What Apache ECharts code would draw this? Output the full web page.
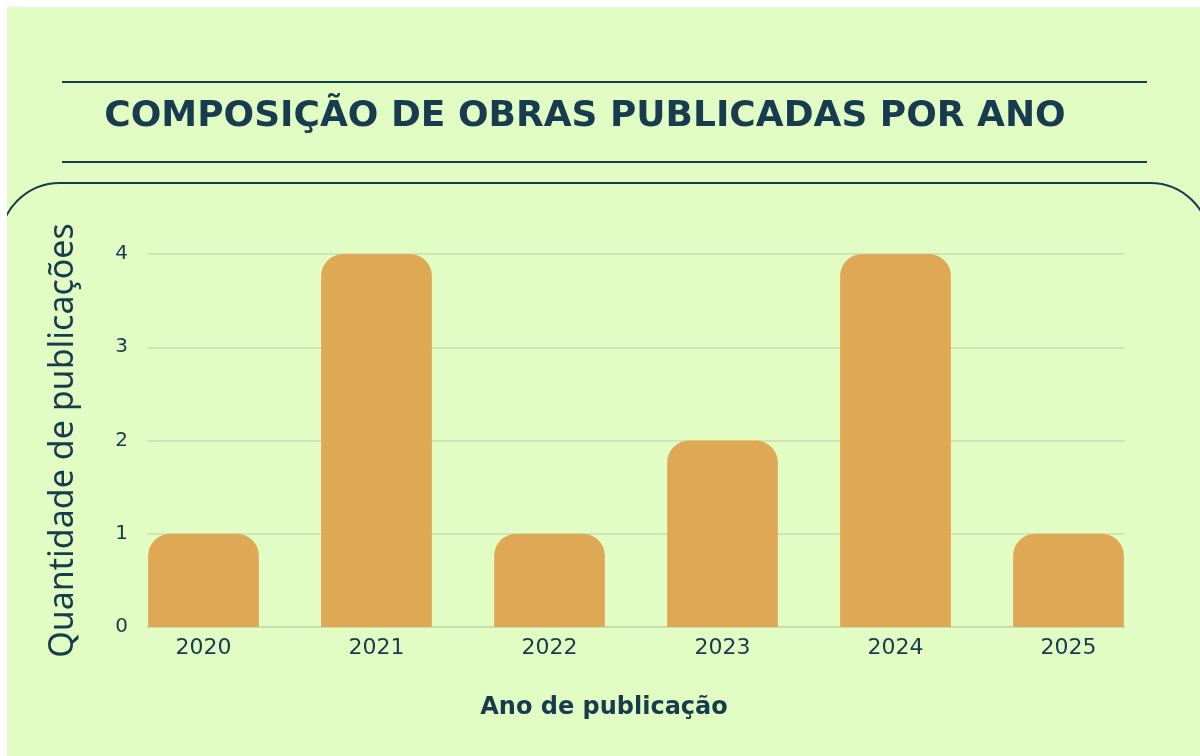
<!DOCTYPE html>
<html>
<head>
<meta charset="utf-8">
<script src="https://cdn.jsdelivr.net/npm/echarts@6/dist/echarts.min.js"></script>
<style>
    html, body { margin: 0; padding: 0; background: #ffffff; }
    #chart { width: 1200px; height: 756px; }
</style>
</head>
<body>
<div id="chart"></div>
<script type="text/javascript">
    var anos = ['2020', '2021', '2022', '2023', '2024', '2025'];
    var publicacoes = [1, 4, 1, 2, 4, 1];
    var yTicks = [0, 1, 2, 3, 4];

    var corTexto = '#173b4f';
    var corFundo = '#e2fdc4';
    var fonte = '"DejaVu Sans", sans-serif';

    var myChart = echarts.init(document.getElementById('chart'));
    var option = {
        backgroundColor: corFundo,
        graphic: [
            // bordas brancas
            { type: 'rect', z: 100, shape: { x: 0, y: 0, width: 1200, height: 7 }, style: { fill: '#ffffff' } },
            { type: 'rect', z: 100, shape: { x: 0, y: 0, width: 7, height: 756 }, style: { fill: '#ffffff' } },
            // linhas do título
            { type: 'line', shape: { x1: 62, y1: 82, x2: 1147, y2: 82 }, style: { stroke: corTexto, lineWidth: 2 } },
            { type: 'line', shape: { x1: 62, y1: 162, x2: 1147, y2: 162 }, style: { stroke: corTexto, lineWidth: 2 } },
            {
                type: 'text', x: 585, y: 117,
                style: {
                    text: 'COMPOSIÇÃO DE OBRAS PUBLICADAS POR ANO',
                    fill: corTexto, font: 'bold 36px ' + fonte,
                    textAlign: 'center', textVerticalAlign: 'middle'
                }
            },
            // painel arredondado
            {
                type: 'rect', z: -5,
                shape: { x: 0, y: 183, width: 1210, height: 700, r: 60 },
                style: { fill: 'none', stroke: corTexto, lineWidth: 2 }
            },
            {
                type: 'text', x: 604, y: 708,
                style: {
                    text: 'Ano de publicação',
                    fill: corTexto, font: 'bold 24px ' + fonte,
                    textAlign: 'center', textVerticalAlign: 'middle'
                }
            }
        ],
        grid: [
            { left: 147, right: 75, top: 254, bottom: 129 },
            { left: 117, right: 45, top: 254, bottom: 129 }
        ],
        xAxis: [
            {
                type: 'category', gridIndex: 0, data: anos,
                axisLine: { lineStyle: { color: '#c3d9ad', width: 1.5 } },
                axisTick: { show: false },
                axisLabel: { show: false }
            },
            {
                type: 'category', gridIndex: 1, data: anos,
                axisLine: { show: false },
                axisTick: { show: false },
                axisLabel: { color: corTexto, fontSize: 22, margin: 10, fontFamily: fonte }
            }
        ],
        yAxis: [
            {
                type: 'value', gridIndex: 0,
                min: yTicks[0], max: yTicks[yTicks.length - 1], interval: 1,
                name: 'Quantidade de publicações',
                nameLocation: 'middle',
                nameGap: 67,
                nameTextStyle: { color: corTexto, fontSize: 34, fontFamily: '"Liberation Sans Narrow", "Noto Sans", sans-serif' },
                axisLine: { show: false },
                axisTick: { show: false },
                axisLabel: { color: corTexto, fontSize: 20, margin: 19, fontFamily: fonte },
                splitLine: { lineStyle: { color: '#c8ddb3', width: 1.5 } }
            },
            {
                type: 'value', gridIndex: 1,
                min: yTicks[0], max: yTicks[yTicks.length - 1], interval: 1,
                axisLine: { show: false },
                axisTick: { show: false },
                axisLabel: { show: false },
                splitLine: { show: false }
            }
        ],
        series: [
            {
                type: 'bar',
                xAxisIndex: 1, yAxisIndex: 1,
                data: publicacoes,
                barWidth: '64%',
                itemStyle: { color: '#dea855', borderRadius: [22, 22, 0, 0] }
            }
        ]
    };
    myChart.setOption(option);
</script>
</body>
</html>
